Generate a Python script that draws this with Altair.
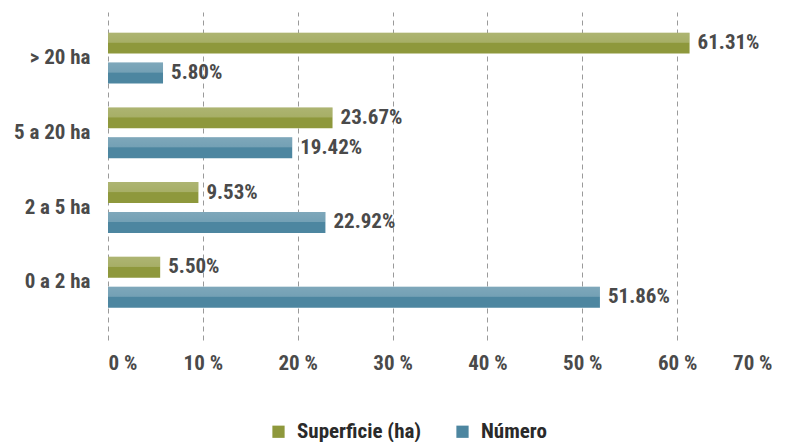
import altair as alt
import pandas as pd

categories = ["> 20 ha", "5 a 20 ha", "2 a 5 ha", "0 a 2 ha"]
series = ["Superficie (ha)", "Número"]
superficie = [61.31, 23.67, 9.53, 5.50]
numero = [5.80, 19.42, 22.92, 51.86]
x_ticks = [0, 10, 20, 30, 40, 50, 60, 70]
colors = ["#8e983c", "#4d86a0"]

rows = []
for c, s, n in zip(categories, superficie, numero):
    rows.append({"cat": c, "serie": series[0], "val": s, "lbl": f"{s:.2f}%"})
    rows.append({"cat": c, "serie": series[1], "val": n, "lbl": f"{n:.2f}%"})
df = pd.DataFrame(rows)

FONT = "Liberation Sans Narrow, Roboto Condensed, Arial Narrow, sans-serif"
FS = 21

y_enc = alt.Y("cat:N", sort=categories,
              scale=alt.Scale(paddingInner=0.32, paddingOuter=0.355, align=0.39),
              axis=alt.Axis(title=None, domain=False, ticks=False, labelPadding=18,
                            labelFont=FONT, labelFontSize=FS, labelFontWeight="bold",
                            labelColor="#4a4a4a", minExtent=94, maxExtent=94))
yoff = alt.YOffset("serie:N", sort=series, scale=alt.Scale(paddingInner=0.3))
x_enc = alt.X("val:Q", scale=alt.Scale(domain=[0, 70], nice=False),
              axis=alt.Axis(title=None, values=x_ticks, domain=False, ticks=False,
                            grid=True, gridDash=[5, 4], gridColor="#9a9a9a",
                            labelExpr="datum.value + ' %'", labelPadding=12,
                            labelFont=FONT, labelFontSize=FS, labelFontWeight="bold",
                            labelColor="#4a4a4a"))

base = alt.Chart(df)

bars = base.mark_bar().encode(
    y=y_enc, yOffset=yoff, x=x_enc,
    color=alt.Color("serie:N", sort=series,
                    scale=alt.Scale(domain=series, range=colors),
                    legend=alt.Legend(title=None, orient="none", direction="horizontal",
                                      legendX=160, legendY=409,
                                      symbolType="square", symbolSize=150,
                                      symbolStrokeWidth=0, symbolOpacity=1,
                                      labelOffset=8,
                                      labelFont=FONT, labelFontSize=FS,
                                      labelFontWeight="bold", labelColor="#2a2a2a",
                                      columnPadding=30)),
)

shine = alt.LinearGradient(
    gradient="linear", x1=0, y1=0, x2=0, y2=1,
    stops=[
        alt.GradientStop(color="rgba(255,255,255,0.28)", offset=0),
        alt.GradientStop(color="rgba(255,255,255,0.22)", offset=0.46),
        alt.GradientStop(color="rgba(255,255,255,0)", offset=0.5),
        alt.GradientStop(color="rgba(255,255,255,0)", offset=1),
    ],
)

highlight = base.mark_bar(color=shine).encode(
    y=y_enc, yOffset=yoff, x=x_enc,
)

labels = base.mark_text(align="left", baseline="middle", dx=8, font=FONT,
                        fontSize=FS, fontWeight="bold", color="#4a4a4a").encode(
    y=y_enc, yOffset=yoff, x=x_enc, text="lbl:N",
)

chart = (bars + highlight + labels).properties(
    width=664, height=328,
    padding={"left": 5, "top": 4, "right": 0, "bottom": 0},
).configure_view(stroke=None)

chart.save("out.html", embed_options={"renderer": "svg", "actions": False})
